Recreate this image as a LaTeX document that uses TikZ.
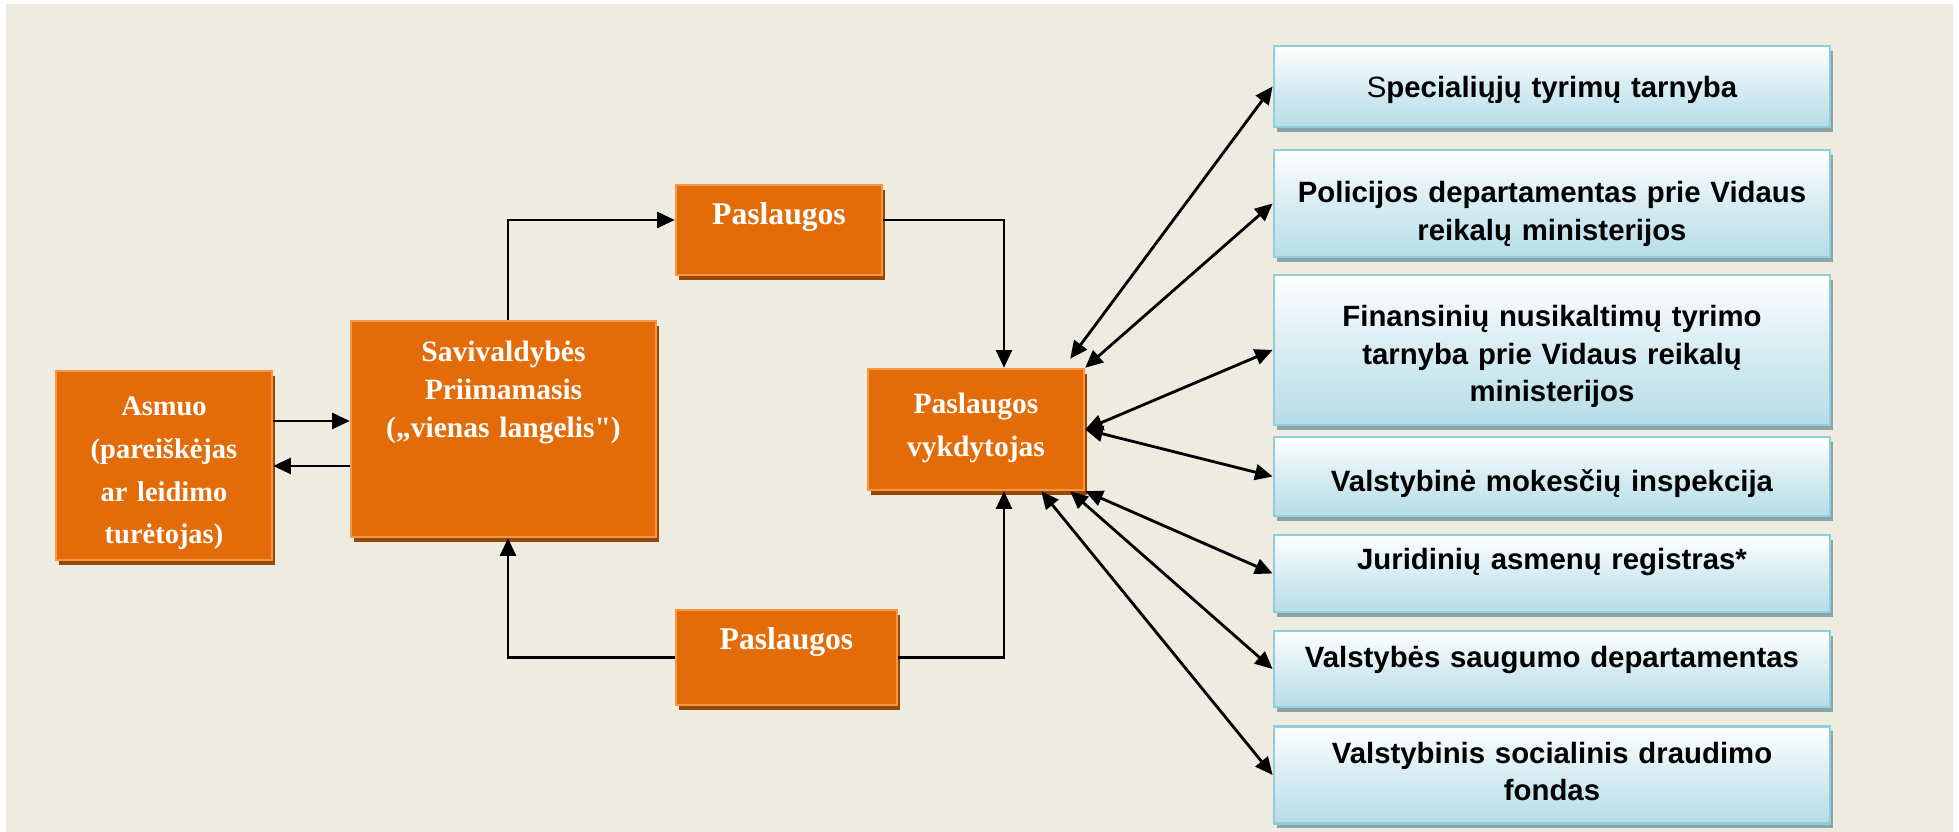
\documentclass[tikz,border=0pt]{standalone}
\usepackage{fontspec}
\setmainfont{Liberation Serif}[Ligatures=TeXOff]
\newfontfamily\boxsans{Liberation Sans}
\usepackage{tikz}
\usetikzlibrary{arrows.meta, shadows}

\definecolor{tanbg}{HTML}{EEEBE0}
\definecolor{orfill}{HTML}{E36C09}
\definecolor{orline}{HTML}{F79646}
\definecolor{orshade}{HTML}{984806}
\definecolor{blfill}{HTML}{B6DDE8}
\definecolor{blline}{HTML}{92CDDC}
\definecolor{blshade}{HTML}{8CA3A8}

\tikzset{
  obox/.style={rectangle, fill=orfill, draw=orline, line width=0.7pt,
    text=white, inner sep=0pt, align=center,
    font=\bfseries\fontsize{8.4}{12.1}\selectfont,
    drop shadow={shadow xshift=0.03cm, shadow yshift=-0.05cm, fill=orshade, opacity=1}},
  bbox/.style={rectangle, top color=white, bottom color=blfill, middle color=blfill!55!white,
    draw=blline, line width=0.8pt, inner sep=0pt, align=center, text width=5.56cm,
    font=\boxsans\bfseries\fontsize{8.35}{10.6}\selectfont,
    drop shadow={shadow xshift=0.025cm, shadow yshift=-0.05cm, fill=blshade, opacity=1}},
  link/.style={line width=0.8pt, >={Triangle[length=5pt,width=4.5pt]}}
}

\begin{document}
\begin{tikzpicture}
  \useasboundingbox (0,0) rectangle (19.59,8.32);
  \fill[tanbg] (0.06,0) rectangle (19.53,8.28);

  \node[obox, text width=2.16cm, text height=0.45cm, text depth=1.44cm,
    font=\bfseries\fontsize{8.1}{12.1}\selectfont] (asmuo) at (1.64,3.665)
    {Asmuo\\(pareiškėjas\\ar leidimo\\turėtojas)};
  \node[obox, text width=3.05cm, text height=0.41cm, text depth=1.75cm,
    font=\bfseries\fontsize{8.4}{10.7}\selectfont] (sav) at (5.035,4.03)
    {Savivaldybės\\Priimamasis\\(„vienas langelis")};
  \node[obox, text width=2.06cm, text height=0.40cm, text depth=0.50cm,
    font=\bfseries\fontsize{9}{11}\selectfont] (pasl1) at (7.79,6.02) {Paslaugos};
  \node[obox, text width=2.16cm, text height=0.45cm, text depth=0.76cm,
    font=\bfseries\fontsize{8.4}{12.2}\selectfont] (vykd) at (9.76,4.025) {Paslaugos\\vykdytojas};
  \node[obox, text width=2.21cm, text height=0.40cm, text depth=0.55cm,
    font=\bfseries\fontsize{9}{11}\selectfont] (pasl2) at (7.865,1.745) {Paslaugos};

  \node[bbox, text height=0.52cm, text depth=0.29cm] (spec) at (15.52,7.455)
    {\textmd{S}pecialiųjų tyrimų tarnyba};
  \node[bbox, text height=0.53cm, text depth=0.54cm] (pol) at (15.52,6.285)
    {Policijos departamentas prie Vidaus\\reikalų ministerijos};
  \node[bbox, text height=0.52cm, text depth=0.98cm] (fin) at (15.52,4.82)
    {Finansinių nusikaltimų tyrimo\\tarnyba prie Vidaus reikalų\\ministerijos};
  \node[bbox, text height=0.55cm, text depth=0.24cm] (mok) at (15.52,3.555)
    {Valstybinė mokesčių inspekcija};
  \node[bbox, text height=0.35cm, text depth=0.42cm] (jur) at (15.52,2.585)
    {Juridinių asmenų registras*};
  \node[bbox, text height=0.37cm, text depth=0.39cm] (vsd) at (15.52,1.63)
    {Valstybės saugumo departamentas};
  \node[bbox, text height=0.37cm, text depth=0.60cm] (sodra) at (15.52,0.57)
    {Valstybinis socialinis draudimo\\fondas};

  \draw[link,->] ([yshift=0.445cm]asmuo.east) -- ([yshift=0.445cm]asmuo.east -| sav.west);
  \draw[link,->] ([yshift=-0.37cm]sav.west) -- ([yshift=-0.37cm]sav.west -| asmuo.east);
  \draw[link,->] ([xshift=0.045cm]sav.north) |- ([yshift=0.1cm]pasl1.west);
  \draw[link,->] ([yshift=0.1cm]pasl1.east) -| ([xshift=0.28cm]vykd.north);
  \draw[link,->] (pasl2.west) -| ([xshift=0.045cm]sav.south);
  \draw[link,->] (pasl2.east) -| ([xshift=0.28cm]vykd.south);

  \draw[link,<->] ([shift={(-0.15,0.09)}]vykd.north east) -- (spec.west);
  \draw[link,<->] (vykd.north east) -- (pol.west);
  \draw[link,<->] (vykd.east) -- (fin.west);
  \draw[link,<->] (vykd.east) -- (mok.west);
  \draw[link,<->] (vykd.south east) -- (jur.west);
  \draw[link,<->] ([xshift=-0.15cm]vykd.south east) -- (vsd.west);
  \draw[link,<->] ([xshift=-0.44cm]vykd.south east) -- (sodra.west);
\end{tikzpicture}
\end{document}
